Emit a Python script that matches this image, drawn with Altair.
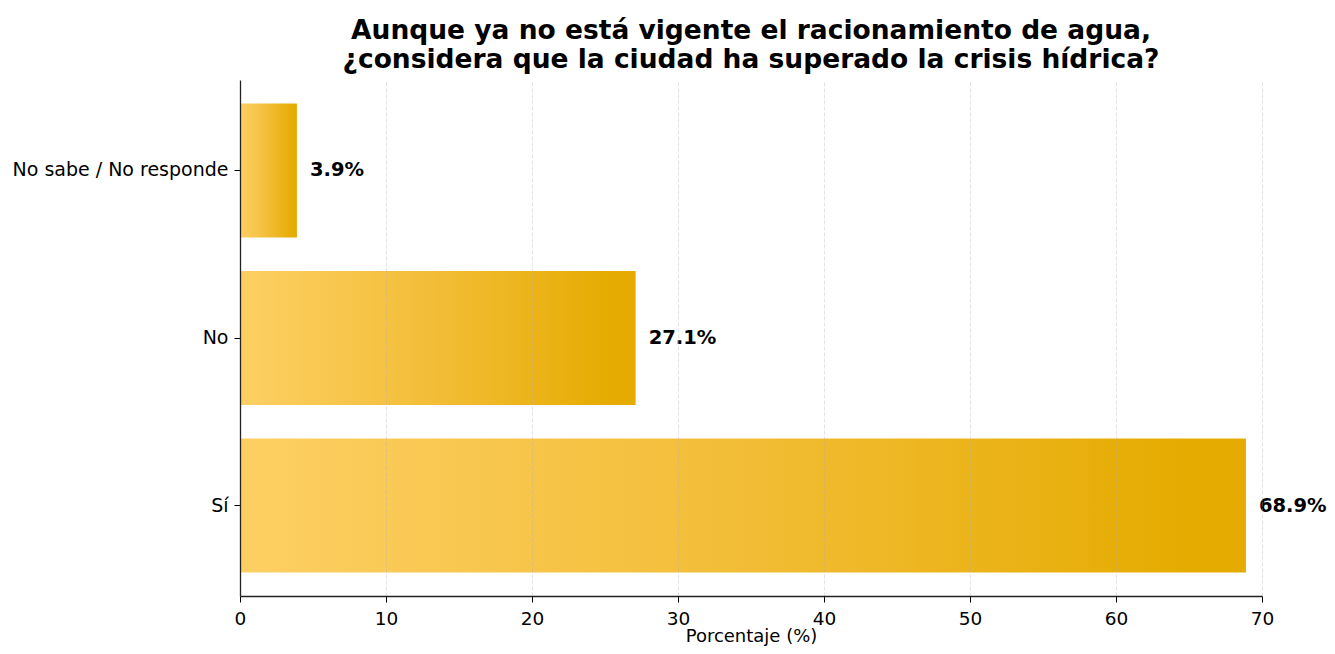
import altair as alt
import pandas as pd

categories = ["No sabe / No responde", "No", "Sí"]
values = [3.9, 27.1, 68.9]
labels = ["3.9%", "27.1%", "68.9%"]

df = pd.DataFrame({"cat": categories, "val": values, "lab": labels})

FONT = "DejaVu Sans"

grad = alt.Gradient(
    gradient="linear",
    stops=[
        alt.GradientStop(color="#FDCF62", offset=0),
        alt.GradientStop(color="#FCCD5E", offset=0.06),
        alt.GradientStop(color="#F2BD36", offset=0.5),
        alt.GradientStop(color="#E5AB00", offset=0.95),
        alt.GradientStop(color="#E5AB00", offset=1),
    ],
    x1=0, x2=1, y1=0, y2=0,
)

y_enc = alt.Y(
    "cat:N",
    sort=categories,
    scale=alt.Scale(paddingInner=0.2, paddingOuter=0.14),
    axis=alt.Axis(
        title=None, labelFont=FONT, labelFontSize=19, labelColor="#000",
        domainColor="#222", domainWidth=1.3, tickColor="#000", tickSize=6,
        labelPadding=6, grid=False, labelLimit=400, zindex=2,
    ),
)

x_enc = alt.X(
    "val:Q",
    scale=alt.Scale(domain=[0, 70], nice=False),
    axis=alt.Axis(
        title="Porcentaje (%)", titleFont=FONT, titleFontSize=18, titleFontWeight="normal",
        titleColor="#000", titleY=45, titleBaseline="alphabetic",
        labelFont=FONT, labelFontSize=18.5, labelColor="#000", labelPadding=7,
        labelFlush=False,
        values=[0, 10, 20, 30, 40, 50, 60, 70],
        domainColor="#222", domainWidth=1.3, tickColor="#000", tickSize=6,
        grid=True, gridColor="#b0b0b0", gridOpacity=0.35, gridDash=[4, 2], gridWidth=1,
        zindex=1,
    ),
)

bars = alt.Chart(df).mark_bar(color=grad, size=134).encode(x=x_enc, y=y_enc)

text = alt.Chart(df).mark_text(
    align="left", baseline="middle", dx=13, font=FONT, fontSize=19.5,
    fontWeight="bold", color="#000",
).encode(x="val:Q", y=alt.Y("cat:N", sort=categories), text="lab:N")

chart = (bars + text).properties(
    width=1022,
    height=516,
    title=alt.TitleParams(
        text=["Aunque ya no está vigente el racionamiento de agua,",
              "¿considera que la ciudad ha superado la crisis hídrica?"],
        font=FONT, fontSize=26.5, fontWeight="bold", color="#000",
        anchor="middle", lineHeight=29, offset=7,
    ),
    autosize=alt.AutoSizeParams(type="none"),
    padding={"left": 232, "top": 72, "right": 65, "bottom": 50},
).configure_view(stroke=None)

chart.save("out.html", embed_options={"renderer": "svg", "actions": False})
